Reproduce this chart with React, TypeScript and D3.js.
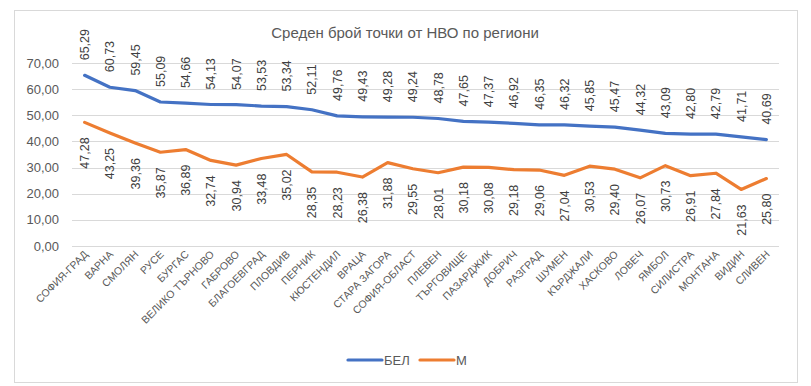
import React from "react";
import * as d3 from "d3";

const regions = [
  "СОФИЯ-ГРАД", "ВАРНА", "СМОЛЯН", "РУСЕ", "БУРГАС", "ВЕЛИКО ТЪРНОВО", "ГАБРОВО",
  "БЛАГОЕВГРАД", "ПЛОВДИВ", "ПЕРНИК", "КЮСТЕНДИЛ", "ВРАЦА", "СТАРА ЗАГОРА",
  "СОФИЯ-ОБЛАСТ", "ПЛЕВЕН", "ТЪРГОВИЩЕ", "ПАЗАРДЖИК", "ДОБРИЧ", "РАЗГРАД", "ШУМЕН",
  "КЪРДЖАЛИ", "ХАСКОВО", "ЛОВЕЧ", "ЯМБОЛ", "СИЛИСТРА", "МОНТАНА", "ВИДИН", "СЛИВЕН",
];

const bel = [
  65.29, 60.73, 59.45, 55.09, 54.66, 54.13, 54.07, 53.53, 53.34, 52.11, 49.76, 49.43,
  49.28, 49.24, 48.78, 47.65, 47.37, 46.92, 46.35, 46.32, 45.85, 45.47, 44.32, 43.09,
  42.8, 42.79, 41.71, 40.69,
];

const math = [
  47.28, 43.25, 39.36, 35.87, 36.89, 32.74, 30.94, 33.48, 35.02, 28.35, 28.23, 26.38,
  31.88, 29.55, 28.01, 30.18, 30.08, 29.18, 29.06, 27.04, 30.53, 29.4, 26.07, 30.73,
  26.91, 27.84, 21.63, 25.8,
];

const yTicks = [0, 10, 20, 30, 40, 50, 60, 70];

const fmt = (v: number) => v.toFixed(2).replace(".", ",");

const W = 811;
const H = 386;
const margin = { left: 72, right: 32, top: 63, bottom: 140 };
const font = "'Liberation Sans', Arial, sans-serif";

export default function App() {
  const x = d3
    .scaleBand<string>()
    .domain(regions)
    .range([margin.left, W - margin.right]);
  const y = d3.scaleLinear().domain([0, 70]).range([H - margin.bottom, margin.top]);
  const cx = (name: string) => (x(name) ?? 0) + x.bandwidth() / 2;

  const line = d3
    .line<number>()
    .x((_, i) => cx(regions[i]))
    .y((d) => y(d));

  const series = [
    { name: "БЕЛ", values: bel, color: "#4472C4", above: true },
    { name: "М", values: math, color: "#ED7D31", above: false },
  ];

  return (
    <svg
      width={W}
      height={H}
      style={{ position: "absolute", left: 0, top: 0, background: "#fff" }}
      fontFamily={font}
    >
      <rect x={14.5} y={10.5} width={783} height={372} fill="#fff" stroke="#d9d9d9" />
      <text x={405} y={38} textAnchor="middle" fontSize={15} fill="#595959">
        Среден брой точки от НВО по региони
      </text>

      {/* grid + y axis */}
      {yTicks.map((t) => (
        <g key={t}>
          <line
            x1={margin.left}
            x2={W - margin.right}
            y1={Math.round(y(t)) + 0.5}
            y2={Math.round(y(t)) + 0.5}
            stroke="#d9d9d9"
          />
          <text x={59} y={y(t)} dy="0.35em" textAnchor="end" fontSize={13} fill="#595959">
            {fmt(t)}
          </text>
        </g>
      ))}

      {/* x labels */}
      {regions.map((r) => (
        <text
          key={r}
          transform={`translate(${cx(r) + 4},${255}) rotate(-45)`}
          textAnchor="end"
          fontSize={10.5}
          fill="#595959"
        >
          {r}
        </text>
      ))}

      {series.map((s) => (
        <g key={s.name}>
          <path
            d={line(s.values) ?? ""}
            fill="none"
            stroke={s.color}
            strokeWidth={3.2}
            strokeLinejoin="round"
            strokeLinecap="round"
          />
          {s.values.map((v, i) => {
            const px = cx(regions[i]);
            const py = s.above ? y(v) - 15 : y(v) + 15;
            return (
              <text
                key={i}
                transform={`translate(${px},${py}) rotate(-90)`}
                textAnchor={s.above ? "start" : "end"}
                dy="0.35em"
                fontSize={12.5}
                fill="#404040"
              >
                {fmt(v)}
              </text>
            );
          })}
        </g>
      ))}

      {/* legend */}
      <line x1={348} x2={382} y1={360} y2={360} stroke="#4472C4" strokeWidth={3.2} strokeLinecap="round" />
      <text x={384} y={360} dy="0.35em" fontSize={13} fill="#595959">БЕЛ</text>
      <line x1={420} x2={454} y1={360} y2={360} stroke="#ED7D31" strokeWidth={3.2} strokeLinecap="round" />
      <text x={456} y={360} dy="0.35em" fontSize={13} fill="#595959">М</text>
    </svg>
  );
}
